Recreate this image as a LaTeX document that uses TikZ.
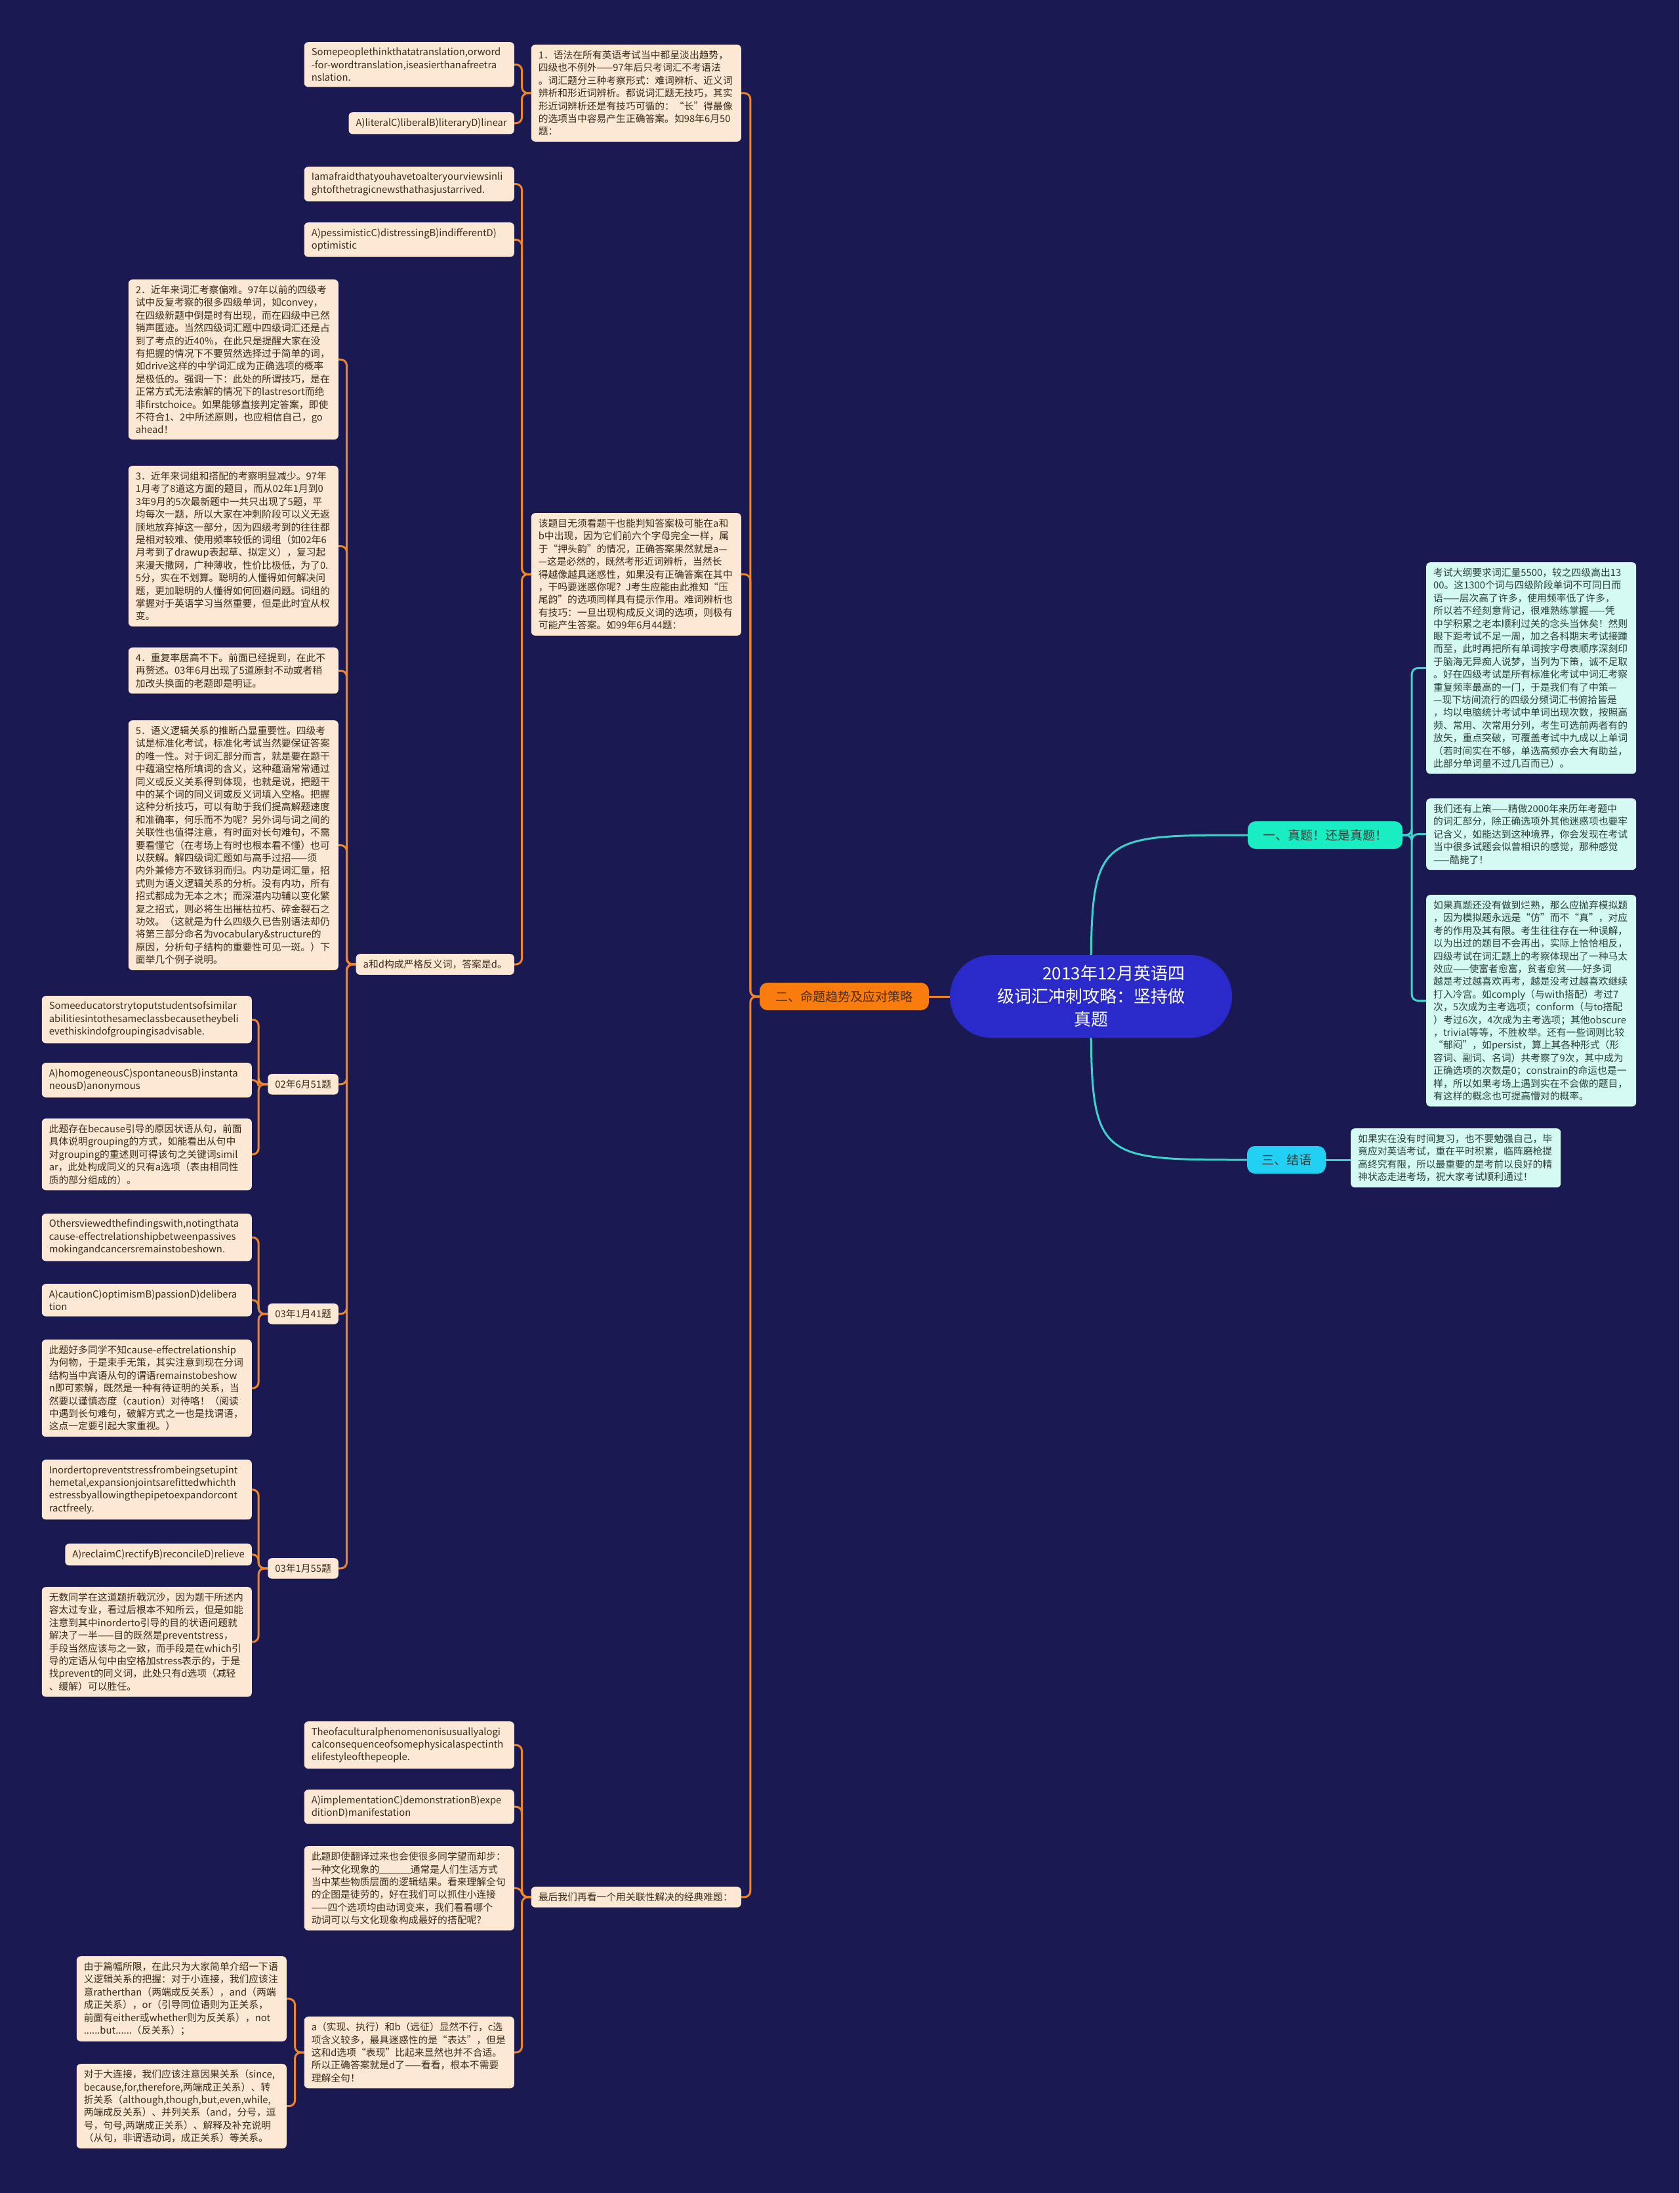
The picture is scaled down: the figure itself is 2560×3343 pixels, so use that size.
\documentclass[tikz,border=0pt]{standalone}
\usepackage{fontspec}
\newfontfamily\cjk{Noto Sans CJK SC}
\usetikzlibrary{calc}
\definecolor{bgc}{HTML}{1A1952}
\definecolor{ofill}{HTML}{FDE8D4}
\definecolor{otext}{HTML}{3B2A1C}
\definecolor{oline}{HTML}{EE8628}
\definecolor{btwo}{HTML}{FA7C0C}
\definecolor{btwotext}{HTML}{4A2A10}
\definecolor{rootc}{HTML}{2A2ACB}
\definecolor{cline}{HTML}{3FD2CC}
\definecolor{bone}{HTML}{18EEC2}
\definecolor{bthree}{HTML}{22D0F4}
\definecolor{cfill}{HTML}{D4FAF3}
\definecolor{ctext}{HTML}{2B3E3A}
\pgfdeclarelayer{back}\pgfdeclarelayer{lines}
\pgfsetlayers{back,lines,main}
\hyphenpenalty=10000 \exhyphenpenalty=10000
\newcommand{\bodyfont}{\cjk\fontsize{14.8}{19.4}\selectfont}
\begin{document}
\begin{tikzpicture}[x=1pt,y=-1pt,
 base/.style={font=\bodyfont, rounded corners=6pt, inner xsep=11pt, inner ysep=8.8pt, align=left},
 obox/.style={base, fill=ofill, text=otext, text width=298pt},
 obox1/.style={base, fill=ofill, text=otext},
 cbox/.style={base, fill=cfill, text=ctext, text width=298pt},
 oconn/.style={draw=oline, line width=3pt, rounded corners=9pt},
 cconn/.style={draw=cline, line width=3pt, rounded corners=9pt},
 root/.style={fill=rootc, text=white, font=\cjk\fontsize{26}{35}\selectfont, align=center, minimum width=430pt, minimum height=126pt, rounded corners=63pt},
 branch/.style={font=\cjk\fontsize{19}{23}\selectfont, rounded corners=12pt, inner sep=0pt, minimum height=42pt}
]
\begin{pgfonlayer}{back}
\fill[bgc] (0,0) rectangle (2560,3343);
\end{pgfonlayer}

% root and branches
\node[root] (root) at (1663,1519) {\makebox[11em][r]{2013年12月英语四}\\级词汇冲刺攻略：坚持做\\真题};
\node[branch, fill=bone, text=ctext, minimum width=236pt] (b1) at (2020,1273) {一、真题！还是真题！};
\node[branch, fill=btwo, text=btwotext, minimum width=258pt] (b2) at (1287,1519) {二、命题趋势及应对策略};
\node[branch, fill=bthree, text=ctext, minimum width=120pt] (b3) at (1961,1768) {三、结语};

% right side
\node[cbox, anchor=north west] (c1) at (2174,857) {考试大纲要求词汇量5500，较之四级高出13\\00。这1300个词与四级阶段单词不可同日而\\语——层次高了许多，使用频率低了许多，\\所以若不经刻意背记，很难熟练掌握——凭\\中学积累之老本顺利过关的念头当休矣！然则\\眼下距考试不足一周，加之各科期末考试接踵\\而至，此时再把所有单词按字母表顺序深刻印\\于脑海无异痴人说梦，当列为下策，诚不足取\\。好在四级考试是所有标准化考试中词汇考察\\重复频率最高的一门，于是我们有了中策—\\—现下坊间流行的四级分频词汇书俯拾皆是\\，均以电脑统计考试中单词出现次数，按照高\\频、常用、次常用分列，考生可选前两者有的\\放矢，重点突破，可覆盖考试中九成以上单词\\（若时间实在不够，单选高频亦会大有助益，\\此部分单词量不过几百而已）。};
\node[cbox, anchor=north west] (c2) at (2174,1217) {我们还有上策——精做2000年来历年考题中\\的词汇部分，除正确选项外其他迷惑项也要牢\\记含义，如能达到这种境界，你会发现在考试\\当中很多试题会似曾相识的感觉，那种感觉\\——酷毙了！};
\node[cbox, anchor=north west] (c3) at (2174,1364) {如果真题还没有做到烂熟，那么应抛弃模拟题\\，因为模拟题永远是“仿”而不“真”，对应\\考的作用及其有限。考生往往存在一种误解，\\以为出过的题目不会再出，实际上恰恰相反，\\四级考试在词汇题上的考察体现出了一种马太\\效应——使富者愈富，贫者愈贫——好多词\\越是考过越喜欢再考，越是没考过越喜欢继续\\打入冷宫。如comply（与with搭配）考过7\\次，5次成为主考选项；conform（与to搭配\\）考过6次，4次成为主考选项；其他obscure\\，trivial等等，不胜枚举。还有一些词则比较\\“郁闷”，如persist，算上其各种形式（形\\容词、副词、名词）共考察了9次，其中成为\\正确选项的次数是0；constrain的命运也是一\\样，所以如果考场上遇到实在不会做的题目，\\有这样的概念也可提高懵对的概率。};
\node[cbox, anchor=north west] (jy) at (2059,1720) {如果实在没有时间复习，也不要勉强自己，毕\\竟应对英语考试，重在平时积累，临阵磨枪提\\高终究有限，所以最重要的是考前以良好的精\\神状态走进考场，祝大家考试顺利通过！};

% level 3
\node[obox, anchor=north east] (gram) at (1130,68) {1．语法在所有英语考试当中都呈淡出趋势，\\四级也不例外——97年后只考词汇不考语法\\。词汇题分三种考察形式：难词辨析、近义词\\辨析和形近词辨析。都说词汇题无技巧，其实\\形近词辨析还是有技巧可循的：“长”得最像\\的选项当中容易产生正确答案。如98年6月50\\题：};
\node[obox, anchor=north east] (gai) at (1130,782) {该题目无须看题干也能判知答案极可能在a和\\b中出现，因为它们前六个字母完全一样，属\\于“押头韵”的情况，正确答案果然就是a—\\—这是必然的，既然考形近词辨析，当然长\\得越像越具迷惑性，如果没有正确答案在其中\\，干吗要迷惑你呢？J考生应能由此推知“压\\尾韵”的选项同样具有提示作用。难词辨析也\\有技巧：一旦出现构成反义词的选项，则极有\\可能产生答案。如99年6月44题：};
\node[obox, anchor=north east] (last) at (1130,2876) {最后我们再看一个用关联性解决的经典难题：};

% level 4
\node[obox, anchor=north east] (some) at (784,64) {Somepeoplethinkthatatranslation,orword\\-for-wordtranslation,iseasierthanafreetra\\nslation.};
\node[obox1, anchor=north east] (lit) at (784,171) {A)literalC)liberalB)literaryD)linear};
\node[obox, anchor=north east] (iam) at (784,254) {Iamafraidthatyouhavetoalteryourviewsinli\\ghtofthetragicnewsthathasjustarrived.};
\node[obox, anchor=north east] (pes) at (784,339) {A)pessimisticC)distressingB)indifferentD)\\optimistic};
\node[obox1, anchor=north east] (ad) at (784,1454) {a和d构成严格反义词，答案是d。};
\node[obox, anchor=north east] (theo) at (784,2624) {Theofaculturalphenomenonisusuallyalogi\\calconsequenceofsomephysicalaspectinth\\elifestyleofthepeople.};
\node[obox, anchor=north east] (impl) at (784,2728) {A)implementationC)demonstrationB)expe\\ditionD)manifestation};
\node[obox, anchor=north east] (cidt) at (784,2814) {此题即使翻译过来也会使很多同学望而却步：\\一种文化现象的\underline{\hspace{3.2em}}通常是人们生活方式\\当中某些物质层面的逻辑结果。看来理解全句\\的企图是徒劳的，好在我们可以抓住小连接\\——四个选项均由动词变来，我们看看哪个\\动词可以与文化现象构成最好的搭配呢？};
\node[obox, anchor=north east] (shix) at (784,3074) {a（实现、执行）和b（远征）显然不行，c选\\项含义较多，最具迷惑性的是“表达”，但是\\这和d选项“表现”比起来显然也并不合适。\\所以正确答案就是d了——看看，根本不需要\\理解全句！};

% level 5
\node[obox, anchor=north east] (two) at (516,426) {2．近年来词汇考察偏难。97年以前的四级考\\试中反复考察的很多四级单词，如convey，\\在四级新题中倒是时有出现，而在四级中已然\\销声匿迹。当然四级词汇题中四级词汇还是占\\到了考点的近40\%，在此只是提醒大家在没\\有把握的情况下不要贸然选择过于简单的词，\\如drive这样的中学词汇成为正确选项的概率\\是极低的。强调一下：此处的所谓技巧，是在\\正常方式无法索解的情况下的lastresort而绝\\非firstchoice。如果能够直接判定答案，即使\\不符合1、2中所述原则，也应相信自己，go\\ahead！};
\node[obox, anchor=north east] (three) at (516,710) {3．近年来词组和搭配的考察明显减少。97年\\1月考了8道这方面的题目，而从02年1月到0\\3年9月的5次最新题中一共只出现了5题，平\\均每次一题，所以大家在冲刺阶段可以义无返\\顾地放弃掉这一部分，因为四级考到的往往都\\是相对较难、使用频率较低的词组（如02年6\\月考到了drawup表起草、拟定义），复习起\\来漫天撒网，广种薄收，性价比极低，为了0.\\5分，实在不划算。聪明的人懂得如何解决问\\题，更加聪明的人懂得如何回避问题。词组的\\掌握对于英语学习当然重要，但是此时宜从权\\变。};
\node[obox, anchor=north east] (four) at (516,987) {4．重复率居高不下。前面已经提到，在此不\\再赘述。03年6月出现了5道原封不动或者稍\\加改头换面的老题即是明证。};
\node[obox, anchor=north east] (five) at (516,1098) {5．语义逻辑关系的推断凸显重要性。四级考\\试是标准化考试，标准化考试当然要保证答案\\的唯一性。对于词汇部分而言，就是要在题干\\中蕴涵空格所填词的含义，这种蕴涵常常通过\\同义或反义关系得到体现，也就是说，把题干\\中的某个词的同义词或反义词填入空格。把握\\这种分析技巧，可以有助于我们提高解题速度\\和准确率，何乐而不为呢？另外词与词之间的\\关联性也值得注意，有时面对长句难句，不需\\要看懂它（在考场上有时也根本看不懂）也可\\以获解。解四级词汇题如与高手过招——须\\内外兼修方不致铩羽而归。内功是词汇量，招\\式则为语义逻辑关系的分析。没有内功，所有\\招式都成为无本之木；而深湛内功辅以变化繁\\复之招式，则必将生出摧枯拉朽、碎金裂石之\\功效。（这就是为什么四级久已告别语法却仍\\将第三部分命名为vocabulary\&structure的\\原因，分析句子结构的重要性可见一斑。）下\\面举几个例子说明。};
\node[obox1, anchor=north east] (d51) at (516,1637) {02年6月51题};
\node[obox1, anchor=north east] (d41) at (516,1987) {03年1月41题};
\node[obox1, anchor=north east] (d55) at (516,2375) {03年1月55题};
\node[obox, anchor=north east] (pian) at (437,2982) {由于篇幅所限，在此只为大家简单介绍一下语\\义逻辑关系的把握：对于小连接，我们应该注\\意ratherthan（两端成反关系），and（两端\\成正关系），or（引导同位语则为正关系，\\前面有either或whether则为反关系），not\\......but......（反关系）；};
\node[obox, anchor=north east] (dalian) at (437,3146) {对于大连接，我们应该注意因果关系（since,\\because,for,therefore,两端成正关系）、转\\折关系（although,though,but,even,while,\\两端成反关系）、并列关系（and，分号，逗\\号，句号,两端成正关系）、解释及补充说明\\（从句，非谓语动词，成正关系）等关系。};

% level 6
\node[obox, anchor=north east] (edu) at (384,1518) {Someeducatorstrytoputstudentsofsimilar\\abilitiesintothesameclassbecausetheybeli\\evethiskindofgroupingisadvisable.};
\node[obox, anchor=north east] (homo) at (384,1620) {A)homogeneousC)spontaneousB)instanta\\neousD)anonymous};
\node[obox, anchor=north east] (bec) at (384,1705) {此题存在because引导的原因状语从句，前面\\具体说明grouping的方式，如能看出从句中\\对grouping的重述则可得该句之关键词simil\\ar，此处构成同义的只有a选项（表由相同性\\质的部分组成的）。};
\node[obox, anchor=north east] (oth) at (384,1850) {Othersviewedthefindingswith,notingthata\\cause-effectrelationshipbetweenpassives\\mokingandcancersremainstobeshown.};
\node[obox, anchor=north east] (caut) at (384,1957) {A)cautionC)optimismB)passionD)delibera\\tion};
\node[obox, anchor=north east] (ceff) at (384,2042) {此题好多同学不知cause-effectrelationship\\为何物，于是束手无策，其实注意到现在分词\\结构当中宾语从句的谓语remainstobeshow\\n即可索解，既然是一种有待证明的关系，当\\然要以谨慎态度（caution）对待咯！（阅读\\中遇到长句难句，破解方式之一也是找谓语，\\这点一定要引起大家重视。）};
\node[obox, anchor=north east] (inord) at (384,2225) {Inordertopreventstressfrombeingsetupint\\hemetal,expansionjointsarefittedwhichth\\estressbyallowingthepipetoexpandorcont\\ractfreely.};
\node[obox1, anchor=north east] (recl) at (384,2353) {A)reclaimC)rectifyB)reconcileD)relieve};
\node[obox, anchor=north east] (wushu) at (384,2419) {无数同学在这道题折戟沉沙，因为题干所述内\\容太过专业，看过后根本不知所云，但是如能\\注意到其中inorderto引导的目的状语问题就\\解决了一半——目的既然是preventstress，\\手段当然应该与之一致，而手段是在which引\\导的定语从句中由空格加stress表示的，于是\\找prevent的同义词，此处只有d选项（减轻\\、缓解）可以胜任。};

% connectors
\begin{pgfonlayer}{lines}
\draw[cline, line width=3pt] (root.center) .. controls (root.center |- b1.west) .. (b1.west);
\draw[cline, line width=3pt] (root.center) .. controls (root.center |- b3.west) .. (b3.west);
\draw[oconn] (root.center) -- (b2.east);
\foreach \c in {c1,c2,c3} \draw[cconn] (b1.east) -- ++(14,0) |- (\c.west);
\draw[cconn] (b3.east) -- (b3.east -| jy.west);
\foreach \c in {gram,gai,last} \draw[oconn] (b2.west) -- ++(-14,0) |- (\c.east);
\foreach \c in {some,lit} \draw[oconn] (gram.west) -- ++(-14,0) |- (\c.east);
\foreach \c in {iam,pes,ad} \draw[oconn] (gai.west) -- ++(-14,0) |- (\c.east);
\foreach \c in {two,three,four,five,d51,d41,d55} \draw[oconn] (ad.west) -- ++(-14,0) |- (\c.east);
\foreach \c in {edu,homo,bec} \draw[oconn] (d51.west) -- ++(-14,0) |- (\c.east);
\foreach \c in {oth,caut,ceff} \draw[oconn] (d41.west) -- ++(-14,0) |- (\c.east);
\foreach \c in {inord,recl,wushu} \draw[oconn] (d55.west) -- ++(-14,0) |- (\c.east);
\foreach \c in {theo,impl,cidt,shix} \draw[oconn] (last.west) -- ++(-14,0) |- (\c.east);
\foreach \c in {pian,dalian} \draw[oconn] (shix.west) -- ++(-14,0) |- (\c.east);
\end{pgfonlayer}
\end{tikzpicture}
\end{document}
